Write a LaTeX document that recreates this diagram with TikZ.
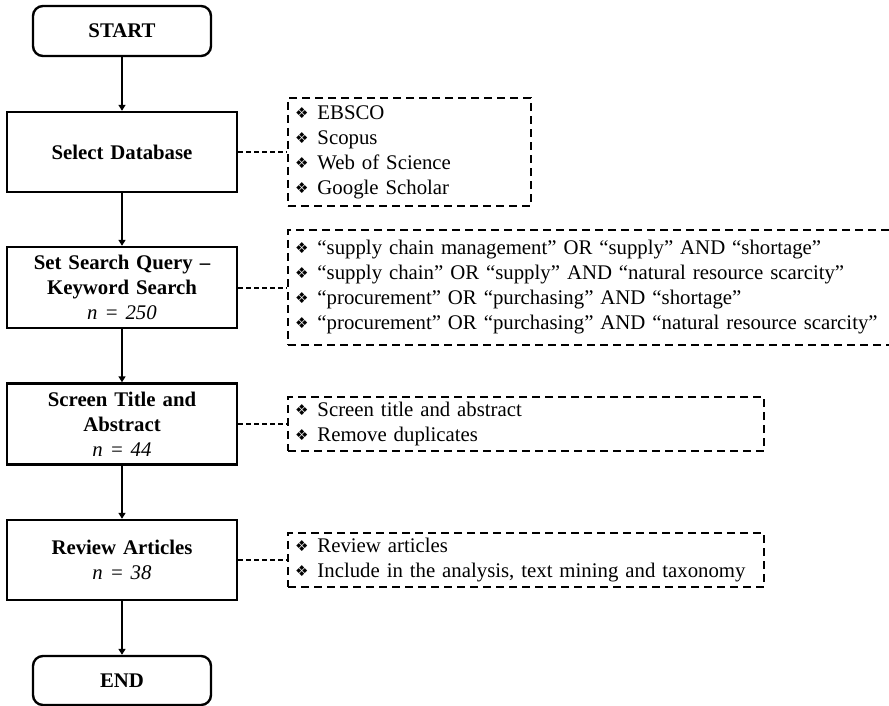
\documentclass[tikz,border=0pt]{standalone}
\usepackage{fontspec}
\setmainfont{Liberation Serif}
\newfontfamily\symfont{DejaVu Sans}
\usetikzlibrary{arrows.meta,positioning}

\newcommand{\itm}{{\symfont\fontsize{15}{15}\selectfont\raisebox{1pt}{❖}}\hspace{9pt}}

\tikzset{
  flowline/.style={line width=2pt},
  stepbox/.style={draw, line width=2.4pt, minimum width=230pt, text width=220pt,
    align=center, font=\bfseries\fontsize{20.8}{25}\selectfont, inner sep=0pt},
  termbox/.style={stepbox, rounded corners=10pt, minimum width=178pt, text width=170pt},
  notebox/.style={draw, dashed, line width=2pt, dash pattern=on 8pt off 5pt,
    align=left, anchor=west, inner xsep=7pt, inner ysep=0pt,
    font=\fontsize{20.8}{25}\selectfont},
  arr/.style={flowline, -{Triangle[width=7pt,length=6pt]}},
  link/.style={flowline, dash pattern=on 5pt off 3pt},
}

\begin{document}
\begin{tikzpicture}[x=1pt,y=-1pt]
\useasboundingbox (0,0) rectangle (889,706);
\clip (0,0) rectangle (889,706);

% main flow
\node[termbox, minimum height=50pt] (start) at (122,31) {START};
\node[stepbox, minimum height=80pt] (db) at (122,152) {Select Database};
\node[stepbox, minimum height=81pt] (query) at (122,287.5) {Set Search Query --\\Keyword Search\\\textit{\mdseries n = 250}};
\node[stepbox, minimum height=81pt] (screen) at (122,424) {Screen Title and\\Abstract\\\textit{\mdseries n = 44}};
\node[stepbox, minimum height=80pt] (review) at (122,560) {Review Articles\\\textit{\mdseries n = 38}};
\node[termbox, minimum height=49pt] (end) at (122,680.5) {END};

\draw[arr] (start) -- (db);
\draw[arr] (db) -- (query);
\draw[arr] (query) -- (screen);
\draw[arr] (screen) -- (review);
\draw[arr] (review) -- (end);

% side notes
\node[notebox, minimum width=243pt, minimum height=108pt, text width=229pt] (n1) at (287,152)
  {\itm EBSCO\\\itm Scopus\\\itm Web of Science\\\itm Google Scholar};
\node[notebox, minimum width=620pt, minimum height=115pt, text width=606pt] (n2) at (287,287.5)
  {\itm “supply chain management” OR “supply” AND “shortage”\\
   \itm “supply chain” OR “supply” AND “natural resource scarcity”\\
   \itm “procurement” OR “purchasing” AND “shortage”\\
   \itm “procurement” OR “purchasing” AND “natural resource scarcity”};
\node[notebox, minimum width=476pt, minimum height=54pt, text width=462pt] (n3) at (287,424)
  {\itm Screen title and abstract\\\itm Remove duplicates};
\node[notebox, minimum width=476pt, minimum height=54pt, text width=462pt] (n4) at (287,560)
  {\itm Review articles\\\itm Include in the analysis, text mining and taxonomy};

\draw[link] (db.east) -- (n1.west);
\draw[link] (query.east) -- (n2.west);
\draw[link] (screen.east) -- (n3.west);
\draw[link] (review.east) -- (n4.west);
\end{tikzpicture}
\end{document}
